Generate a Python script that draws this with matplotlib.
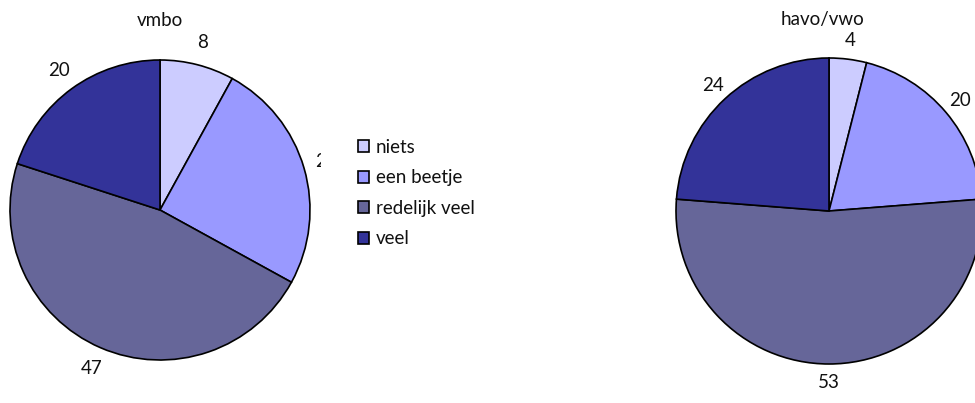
import matplotlib.pyplot as plt

plt.rcParams['font.family'] = ['Lato', 'DejaVu Sans']

# categories and percentages per school type
categories = ['niets', 'een beetje', 'redelijk veel', 'veel']
vmbo = [8, 25, 47, 20]
havo_vwo = [4, 20, 53, 24]
colors = ['#CCCCFF', '#9999FF', '#666699', '#333399']

W, H = 975, 403
fs = 13.5
fig = plt.figure(figsize=(W / 100, H / 100), dpi=100)


def pie_axes(x0, x1, cx, cy, r, values, title, ld, tx):
    # axes in pixel units so the pie lands where it should
    ax = fig.add_axes([x0 / W, 0, (x1 - x0) / W, 1])
    wedges, texts = ax.pie(values, colors=colors, startangle=90, counterclock=False,
                           radius=r, center=(cx, H - cy), labels=[str(v) for v in values],
                           labeldistance=ld,
                           wedgeprops=dict(edgecolor='black', linewidth=1.2),
                           textprops=dict(fontsize=fs, color='#111111'))
    for t in texts:
        t.set_clip_on(True)
        t.set_ha('center')
        t.set_va('center')
    ax.set_xlim(x0, x1)
    ax.set_ylim(0, H)
    ax.set_aspect('auto')
    ax.text(tx, H - 20, title, ha='center', va='center', fontsize=fs, color='#111111')
    return wedges


w1 = pie_axes(0, 321, 160, 210, 150, vmbo, 'vmbo', 1.15, 160)
pie_axes(600, 975, 829, 211, 153, havo_vwo, 'havo/vwo', 1.12, 822)

fig.legend(w1, categories, loc='center left', bbox_to_anchor=(341 / W, 1 - 193 / H),
           frameon=False, fontsize=fs, handlelength=0.6, handleheight=0.6,
           handletextpad=0.35, labelspacing=0.72, labelcolor='#111111')

plt.savefig('out.png', dpi=100)
